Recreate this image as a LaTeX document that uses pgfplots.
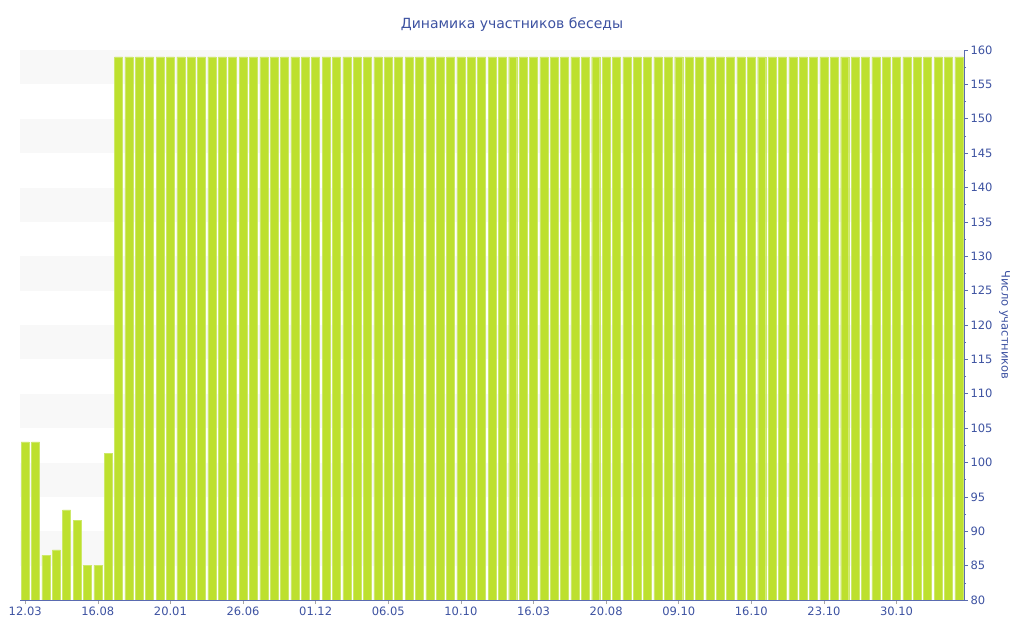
\documentclass[border=0pt]{standalone}
\usepackage{fontspec}
\setmainfont{DejaVu Sans}
\usepackage{pgfplots}
\pgfplotsset{compat=1.18}
\definecolor{txt}{HTML}{3D52A1}
\definecolor{axl}{HTML}{5A6BB0}
\definecolor{barg}{HTML}{BDE02E}
\definecolor{bare}{HTML}{CDE86A}
\definecolor{band}{HTML}{F8F8F8}
\begin{document}
\begin{tikzpicture}
\path[use as bounding box] (0bp,0bp) rectangle (1024bp,640bp);
\begin{axis}[
  at={(20bp,40bp)}, anchor=south west,
  scale only axis, width=944bp, height=550bp,
  xmin=-0.5, xmax=90.5, ymin=80, ymax=160,
  axis y line*=right, axis x line*=bottom,
  axis line style={draw=axl, line width=0.8pt},
  ybar, bar width=8bp,
  xtick={0,7,...,84},
  xticklabels={12.03,16.08,20.01,26.06,01.12,06.05,10.10,16.03,20.08,09.10,16.10,23.10,30.10},
  ytick={80,85,...,160},
  minor ytick={82.5,87.5,...,157.5},
  tick align=outside,
  major tick length=4bp, minor tick length=2bp,
  xtick style={draw=gray!70, line width=0.6pt},
  ytick style={draw=axl, line width=0.6pt},
  tick label style={font=\fontsize{11.5bp}{13bp}\selectfont, text=txt},
  xticklabel style={yshift=1bp},
  yticklabel style={xshift=-1bp},
  /pgf/number format/assume math mode=true,
  ylabel={Число участников},
  ylabel style={font=\fontsize{11.5bp}{13bp}\selectfont, text=txt, rotate=180},
  title={Динамика участников беседы},
  title style={font=\fontsize{14bp}{16bp}\selectfont, text=txt, yshift=9bp, xshift=20bp},
]
\fill[band] (axis cs:-0.5,85) rectangle (axis cs:90.5,90);
\fill[band] (axis cs:-0.5,95) rectangle (axis cs:90.5,100);
\fill[band] (axis cs:-0.5,105) rectangle (axis cs:90.5,110);
\fill[band] (axis cs:-0.5,115) rectangle (axis cs:90.5,120);
\fill[band] (axis cs:-0.5,125) rectangle (axis cs:90.5,130);
\fill[band] (axis cs:-0.5,135) rectangle (axis cs:90.5,140);
\fill[band] (axis cs:-0.5,145) rectangle (axis cs:90.5,150);
\fill[band] (axis cs:-0.5,155) rectangle (axis cs:90.5,160);
\addplot[fill=barg, draw=bare, line width=0.4bp] coordinates {
(0,103) (1,103) (2,86.5) (3,87.3) (4,93.1) (5,91.6) (6,85) (7,85) (8,101.3)
(9,159) (10,159) (11,159) (12,159) (13,159) (14,159) (15,159) (16,159) (17,159) (18,159)
(19,159) (20,159) (21,159) (22,159) (23,159) (24,159) (25,159) (26,159) (27,159) (28,159)
(29,159) (30,159) (31,159) (32,159) (33,159) (34,159) (35,159) (36,159) (37,159) (38,159)
(39,159) (40,159) (41,159) (42,159) (43,159) (44,159) (45,159) (46,159) (47,159) (48,159)
(49,159) (50,159) (51,159) (52,159) (53,159) (54,159) (55,159) (56,159) (57,159) (58,159)
(59,159) (60,159) (61,159) (62,159) (63,159) (64,159) (65,159) (66,159) (67,159) (68,159)
(69,159) (70,159) (71,159) (72,159) (73,159) (74,159) (75,159) (76,159) (77,159) (78,159)
(79,159) (80,159) (81,159) (82,159) (83,159) (84,159) (85,159) (86,159) (87,159) (88,159)
(89,159) (90,159)
};
\end{axis}
\end{tikzpicture}
\end{document}
